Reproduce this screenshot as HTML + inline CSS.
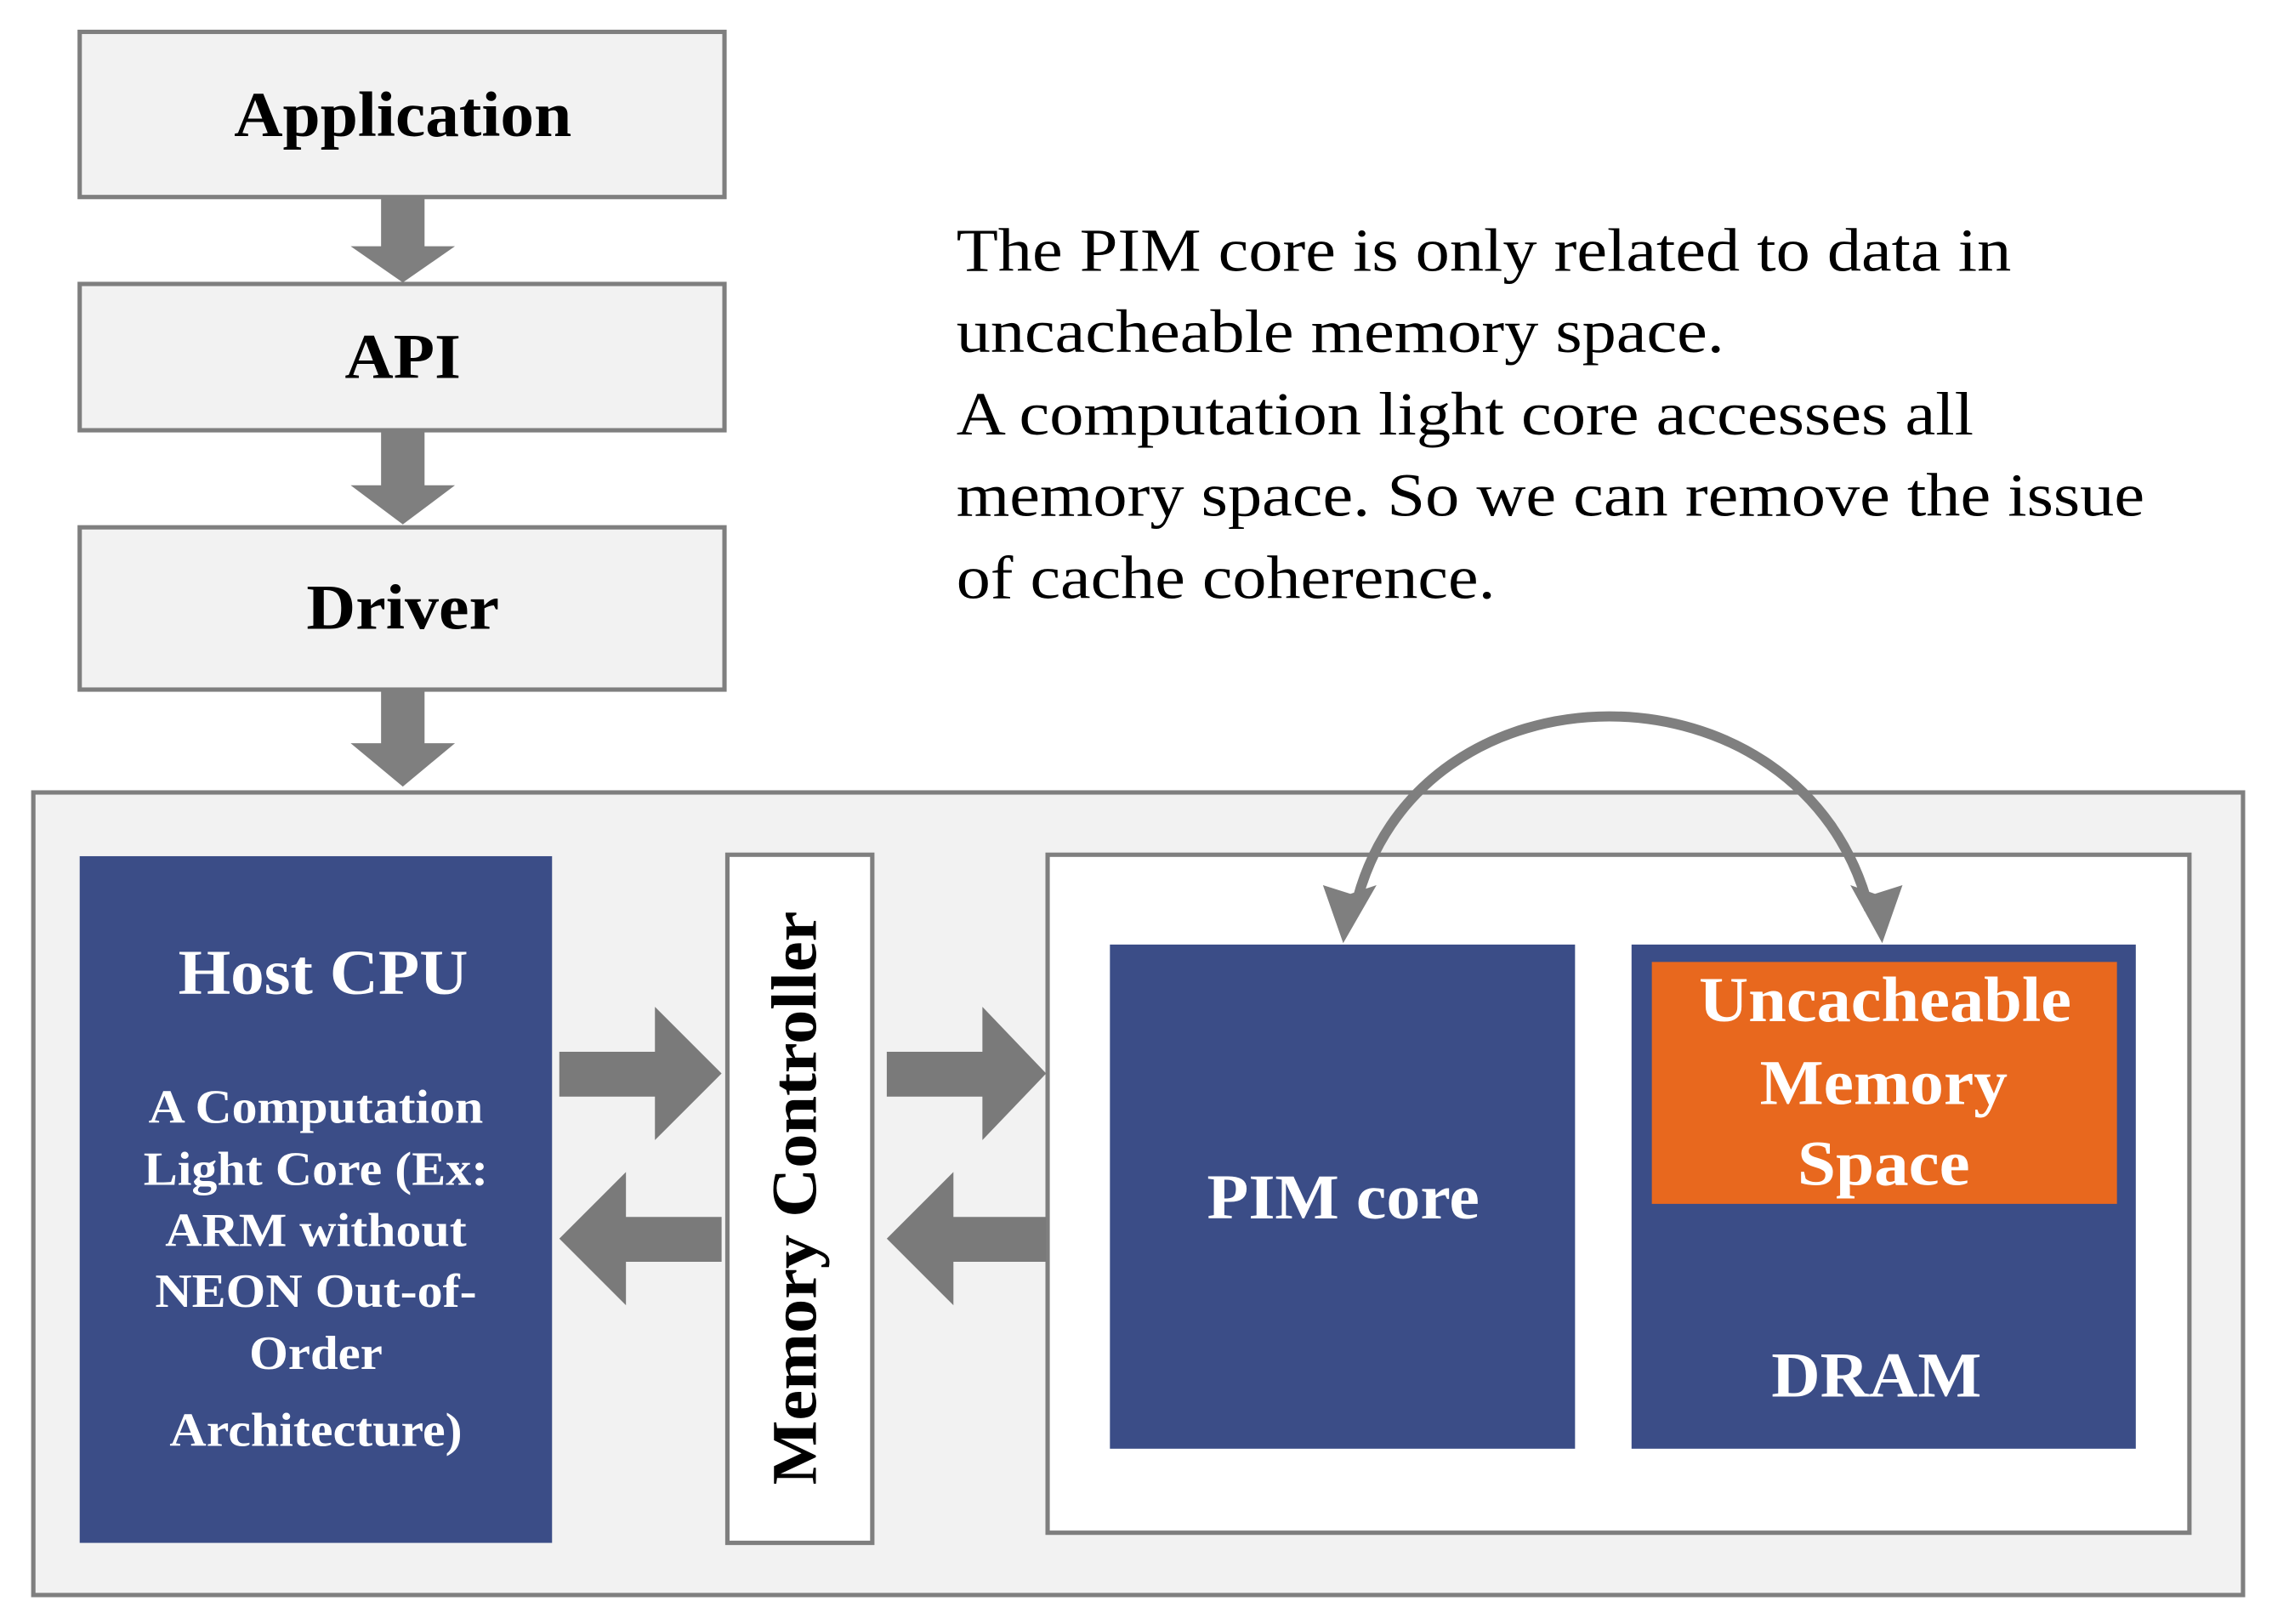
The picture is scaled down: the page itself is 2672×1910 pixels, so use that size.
<!DOCTYPE html>
<html><head><meta charset="utf-8"><style>html,body{margin:0;padding:0;background:#fff}svg{display:block}</style></head>
<body>
<svg width="2672" height="1910" viewBox="0 0 1568 1121" preserveAspectRatio="none" xmlns="http://www.w3.org/2000/svg" font-family="Liberation Serif, serif">
<g stroke="#7f7f7f" stroke-width="3" fill="#f2f2f2">
<rect x="55" y="22" width="445" height="114"/>
<rect x="55" y="196" width="445" height="101"/>
<rect x="55" y="364" width="445" height="112"/>
</g>
<g fill="#7f7f7f">
<polygon points="263,136 293,136 293,170 314,170 278,195 242,170 263,170"/>
<polygon points="263,297 293,297 293,335 314,335 278,362 242,335 263,335"/>
<polygon points="263,476 293,476 293,513 314,513 278,543 242,513 263,513"/>
</g>
<g font-weight="bold" font-size="44" text-anchor="middle" fill="#000">
<text x="278" y="94" textLength="233" lengthAdjust="spacingAndGlyphs">Application</text>
<text x="278" y="261" textLength="80" lengthAdjust="spacingAndGlyphs">API</text>
<text x="278" y="434" textLength="133" lengthAdjust="spacingAndGlyphs">Driver</text>
</g>
<g font-size="42" fill="#000">
<text x="660" y="187" textLength="728" lengthAdjust="spacingAndGlyphs">The PIM core is only related to data in</text>
<text x="660" y="243" textLength="530" lengthAdjust="spacingAndGlyphs">uncacheable memory space.</text>
<text x="660" y="300" textLength="702" lengthAdjust="spacingAndGlyphs">A computation light core accesses all</text>
<text x="660" y="356" textLength="820" lengthAdjust="spacingAndGlyphs">memory space. So we can remove the issue</text>
<text x="660" y="413" textLength="372" lengthAdjust="spacingAndGlyphs">of cache coherence.</text>
</g>
<rect x="23" y="547" width="1525" height="554" fill="#f2f2f2" stroke="#7f7f7f" stroke-width="3"/>
<rect x="55" y="591" width="326" height="474" fill="#3b4d87"/>
<rect x="502" y="590" width="100" height="475" fill="#fff" stroke="#7f7f7f" stroke-width="3"/>
<rect x="723" y="590" width="788" height="468" fill="#fff" stroke="#7f7f7f" stroke-width="3"/>
<rect x="766" y="652" width="321" height="348" fill="#3b4d87"/>
<rect x="1126" y="652" width="348" height="348" fill="#3b4d87"/>
<rect x="1140" y="664" width="321" height="167" fill="#e8681e"/>
<g fill="#7a7a7a">
<polygon points="386,726 452,726 452,695 498,741 452,787 452,757 386,757"/>
<polygon points="612,726 678,726 678,695 722,741 678,787 678,757 612,757"/>
<polygon points="498,840 432,840 432,809 386,855 432,901 432,871 498,871"/>
<polygon points="722,840 658,840 658,809 612,855 658,901 658,871 722,871"/>
</g>
<path d="M 935 628 C 975 450, 1245 450, 1290 628" fill="none" stroke="#7f7f7f" stroke-width="7"/>
<polygon points="913,611 927,651 950,611 932,617" fill="#7f7f7f"/>
<polygon points="1277,611 1299,651 1313,611 1294,617" fill="#7f7f7f"/>
<g fill="#fff" font-weight="bold" text-anchor="middle">
<text x="223" y="686" font-size="44" textLength="200" lengthAdjust="spacingAndGlyphs">Host CPU</text>
<g font-size="33">
<text x="218" y="775" textLength="231" lengthAdjust="spacingAndGlyphs">A Computation</text>
<text x="218" y="818" textLength="238" lengthAdjust="spacingAndGlyphs">Light Core (Ex:</text>
<text x="218" y="860" textLength="208" lengthAdjust="spacingAndGlyphs">ARM without</text>
<text x="218" y="902" textLength="222" lengthAdjust="spacingAndGlyphs">NEON Out-of-</text>
<text x="218" y="945" textLength="92" lengthAdjust="spacingAndGlyphs">Order</text>
<text x="218" y="998" textLength="202" lengthAdjust="spacingAndGlyphs">Architecture)</text>
</g>
<text x="927" y="841" font-size="44" textLength="188" lengthAdjust="spacingAndGlyphs">PIM core</text>
<text x="1295" y="964" font-size="44" textLength="145" lengthAdjust="spacingAndGlyphs">DRAM</text>
<text x="1301" y="705" font-size="44" textLength="257" lengthAdjust="spacingAndGlyphs">Uncacheable</text>
<text x="1300" y="762" font-size="44" textLength="171" lengthAdjust="spacingAndGlyphs">Memory</text>
<text x="1300" y="818" font-size="44" textLength="119" lengthAdjust="spacingAndGlyphs">Space</text>
</g>
<text transform="translate(563,827) rotate(-90)" font-weight="bold" font-size="44" text-anchor="middle" fill="#000" textLength="396" lengthAdjust="spacingAndGlyphs">Memory Controller</text>
</svg>
</body></html>
